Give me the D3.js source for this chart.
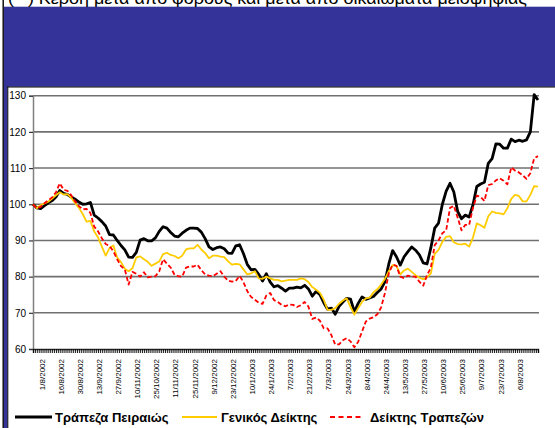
<!DOCTYPE html>
<html><head><meta charset="utf-8">
<script src="https://cdn.jsdelivr.net/npm/d3@7"></script>
<style>body{margin:0;background:#fff} svg{display:block}</style>
</head><body><svg id="c" width="555" height="428"></svg>
<script>
const title = "(**) Κέρδη μετά από φόρους και μετά από δικαιώματα μειοψηφίας";
const seriesNames = ["Τράπεζα Πειραιώς", "Γενικός Δείκτης", "Δείκτης Τραπεζών"];
const tickLabels = ["1/8/2002","16/8/2002","30/8/2002","13/9/2002","27/9/2002","10/11/2002","25/10/2002","11/11/2002","25/11/2002","9/12/2002","23/12/2002","10/1/2003","24/1/2003","7/2/2003","21/2/2003","7/3/2003","24/3/2003","8/4/2003","24/4/2003","13/5/2003","27/5/2003","10/6/2003","25/6/2003","9/7/2003","23/7/2003","6/8/2003"];
const yTicks = [60, 70, 80, 90, 100, 110, 120, 130];
const totalDays = 265;   // trading days on the category axis
const labelEvery = 10;   // one date label every 10 trading days
const sampleEvery = 2;   // values below are read every 2 trading days

const piraeus = [100,99,98.8,99.6,100.4,101,102,103.8,103,102.7,102,101.4,100.6,100,100.1,100.5,97,96.2,95.2,94,91.6,91.5,90,88.6,87.4,85.4,85.3,86.7,90.1,90.5,89.9,89.9,90.7,92.5,93.8,93.4,92.2,91.2,91,92,92.8,93.4,93.4,93.3,92.3,90.5,88.2,87.5,88,88.2,87.7,86.5,86.4,88.5,88.8,86.4,83.4,81.9,82,80.6,78.8,80.8,78.5,77.2,77.5,76.8,76,76.8,76.8,77.1,76.9,77.6,76.6,74.6,75.9,75,72.8,71,71.3,69.6,71.8,73,74,73.8,70.3,72.6,74.4,73.7,74.1,74.5,75.6,76.6,78.6,83.5,87.2,85.5,83.2,85.5,86.9,88.2,87.3,86,83.8,83.5,88,93.4,94.8,100,103.6,105.8,103.4,98,96,97,96.5,99.8,104.9,105.6,106.1,111.3,112.6,116.7,116.6,115.5,115.5,118,117.3,117.7,117.4,117.8,120,130.3,128.8];
const generalIndex = [100,98.9,99.8,100.2,100.7,101.6,102.5,103.3,102.7,102.8,101.8,100.3,99,97.3,95.2,95.4,92.5,90.8,88.3,85.8,87.9,88.6,85.3,84,82.2,81.5,82.3,85.3,85.6,84.8,84.1,83,83.6,84.2,86.2,86.6,86,85.7,85.1,85.8,87.5,87.8,87.8,88.8,87.5,86.5,85.1,85.8,85.8,85.5,85.4,84.2,83.3,83.5,83.4,82,80.6,80.9,81.5,79.5,79.4,80,79.5,79.1,79.1,78.7,78.9,79.1,79.1,79.1,79.5,79.3,78.5,77.1,76.4,75.5,73.6,70.8,70.8,71.3,72.5,73.4,74,71.6,69.5,71.3,73,74,74.2,75.7,76.5,77.8,79.4,81.5,83.2,83,80.6,81.7,82.2,81.3,80.4,79.7,79.3,79.8,80.9,86.3,87.4,89.6,91,91.2,89.5,89,88.9,89.1,88.3,90.8,94.7,94.2,93.5,96.7,98,97.6,97.5,97.2,98.9,101.5,102.6,102.3,100.8,100.8,102.6,105,104.9];
const bankIndex = [100,98.9,99.3,100.3,101.1,101.9,103.3,105.8,104,103.7,102.5,100.8,99.5,98.6,98.7,97.6,93.8,92.5,90.6,89,88.5,87,84.8,82.9,82,77.8,81.3,80.8,80,81.2,79.8,80,80.1,81.5,84.8,83.6,82.5,80.5,80.1,80,82.5,82.8,82.8,83.3,81.8,80.6,80.3,80.1,80.8,81.5,80,78.9,78.6,78.8,80.2,78.5,76,74.4,73.6,72.8,72.5,74.8,75.5,73.5,73,72.2,71.8,72.3,72.2,71.6,72.1,73,71.7,68.3,68.7,67.8,65.7,65.7,63.8,61.2,61.3,62.4,63,62.1,60.5,62,64.8,67.6,68.4,68.8,69.6,71.5,75.5,80.9,83.3,83,80,79.6,80.3,80,80,78.6,77.5,80.4,82.5,88.7,90,92,92.8,99,99.6,96.3,92.8,94.3,94.3,99,102.4,102,100.9,105.3,105.6,106.6,107.2,106.5,105.5,110.2,109.3,108.8,108,107,108.6,112.7,113.3];

const svg = d3.select("#c");
svg.append("rect").attr("width", 555).attr("height", 428).attr("fill", "#fff");

// frame
const frameBlue = "#333399";
svg.append("rect").attr("x", 4).attr("y", 6.7).attr("width", 551).attr("height", 80).attr("fill", frameBlue);
svg.append("rect").attr("x", 4).attr("y", 86).attr("width", 3.5).attr("height", 342).attr("fill", frameBlue);
svg.append("line").attr("x1", 3.2).attr("x2", 3.2).attr("y1", 0).attr("y2", 428).attr("stroke", "#000").attr("stroke-width", 1.4);
svg.append("line").attr("x1", 7.8).attr("x2", 7.8).attr("y1", 86.5).attr("y2", 428).attr("stroke", "#000").attr("stroke-width", 1);
svg.append("line").attr("x1", 7.3).attr("x2", 555).attr("y1", 87).attr("y2", 87).attr("stroke", "#000").attr("stroke-width", 1.2);

svg.append("text").attr("x", 8).attr("y", 3.5).attr("font-family", "Liberation Sans, Arial, sans-serif")
  .attr("font-size", 16).attr("textLength", 519).attr("lengthAdjust", "spacingAndGlyphs").attr("fill", "#000").text(title);

const x = d3.scaleLinear().domain([0, totalDays - 1]).range([33, 538]);
const y = d3.scaleLinear().domain([60, 130]).range([349, 95.7]);

// gridlines
svg.append("g").selectAll("line").data(yTicks.filter(v => v > 60)).join("line")
  .attr("x1", 33).attr("x2", 539).attr("y1", d => y(d)).attr("y2", d => y(d))
  .attr("stroke", "#707070").attr("stroke-width", 1.6);

// y axis
const yAxis = svg.append("g").attr("transform", "translate(33,0)")
  .call(d3.axisLeft(y).tickValues(yTicks).tickSize(4).tickPadding(3));
yAxis.select(".domain").attr("stroke", "#808080").attr("stroke-width", 1.5);
yAxis.selectAll(".tick line").attr("stroke", "#333").attr("stroke-width", 1.2);
yAxis.selectAll("text").attr("font-family", "Liberation Sans, Arial, sans-serif").attr("font-size", 10).attr("fill", "#000");

// x axis with a tick for every trading day
const xAxis = svg.append("g").attr("transform", "translate(0,349)")
  .call(d3.axisBottom(x).tickValues(d3.range(totalDays)).tickSize(4).tickFormat(""));
xAxis.select(".domain").attr("stroke", "#333").attr("stroke-width", 1.4);
xAxis.selectAll(".tick line").attr("stroke", "#000").attr("stroke-width", 0.9);

svg.append("g").selectAll("text").data(tickLabels).join("text")
  .attr("transform", (d, i) => `translate(${x(i * labelEvery) + 8.7},359) rotate(-90)`)
  .attr("text-anchor", "end").attr("dy", "0.35em")
  .attr("font-family", "Liberation Sans, Arial, sans-serif").attr("font-size", 8).attr("fill", "#000")
  .text(d => d);

// series
const line = d3.line().x((d, i) => x(i * sampleEvery)).y(d => y(d));
const styles = [
  { data: piraeus, color: "#000000", width: 2.8, dash: null },
  { data: generalIndex, color: "#FFCC00", width: 1.8, dash: null },
  { data: bankIndex, color: "#FF0000", width: 1.8, dash: "4.5,2.5" }
];
styles.forEach(s => {
  svg.append("path").datum(s.data).attr("d", line).attr("fill", "none")
    .attr("stroke", s.color).attr("stroke-width", s.width)
    .attr("stroke-dasharray", s.dash).attr("stroke-linejoin", "round");
});

// legend
const legendItems = [
  { x1: 15, x2: 52, tx: 55 },
  { x1: 182, x2: 217, tx: 221 },
  { x1: 330, x2: 362, tx: 370 }
];
const lg = svg.append("g");
legendItems.forEach((p, i) => {
  lg.append("line").attr("x1", p.x1).attr("x2", p.x2).attr("y1", 417).attr("y2", 417)
    .attr("stroke", styles[i].color).attr("stroke-width", i === 0 ? 3 : 2)
    .attr("stroke-dasharray", i === 2 ? "5,3.5" : null);
  lg.append("text").attr("x", p.tx).attr("y", 421.6)
    .attr("font-family", "Liberation Sans, Arial, sans-serif").attr("font-weight", "bold").attr("font-size", 13)
    .attr("fill", "#000").text(seriesNames[i]);
});
</script></body></html>
